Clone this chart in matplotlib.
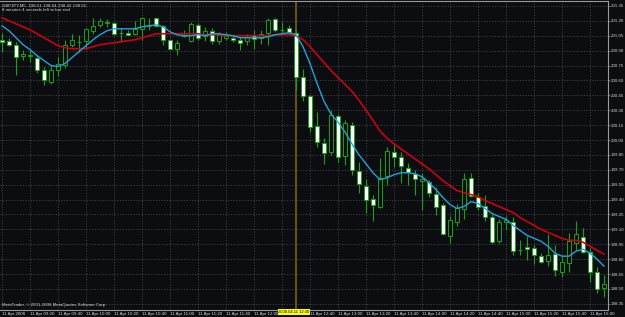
import matplotlib
matplotlib.use("Agg")
import matplotlib.pyplot as plt

# GBPJPY M5, 11 Apr 2008, 09:00 .. 16:10
opens = [201.01, 201.00, 200.96, 200.85, 200.85, 200.83, 200.71, 200.58, 200.71, 200.76,
         200.96, 200.99, 201.00, 201.10, 201.16, 201.18, 201.18, 201.08, 201.08, 201.07,
         201.12, 201.15, 201.23, 201.15, 201.01, 200.92, 201.06, 201.00, 201.16, 201.05,
         201.10, 201.00, 201.03, 201.03, 201.01, 201.00, 201.06, 201.03, 201.08, 201.22,
         201.11, 201.13, 201.08, 200.63, 200.44, 200.14, 199.97, 199.88, 200.24, 199.84,
         200.15, 199.69, 199.54, 199.41, 199.33, 199.64, 199.88, 199.83, 199.72, 199.66,
         199.59, 199.58, 199.46, 199.35, 199.03, 199.17, 199.31, 199.62, 199.43, 199.34,
         199.22, 198.98, 199.17, 199.17, 198.89, 198.92, 198.91, 198.83, 198.78, 198.85,
         198.67, 198.76, 198.96, 199.02, 198.87, 198.67, 198.51]
highs = [201.08, 201.03, 200.99, 200.91, 200.91, 200.86, 200.74, 200.76, 200.84, 201.01,
         201.07, 201.06, 201.13, 201.23, 201.23, 201.22, 201.19, 201.13, 201.11, 201.20,
         201.24, 201.23, 201.24, 201.16, 201.02, 201.01, 201.11, 201.19, 201.18, 201.14,
         201.13, 201.09, 201.09, 201.06, 201.04, 201.07, 201.11, 201.11, 201.23, 201.23,
         201.19, 201.16, 201.11, 200.72, 200.45, 200.28, 200.02, 200.30, 200.26, 200.20,
         200.18, 199.78, 199.61, 199.45, 199.82, 199.93, 199.95, 199.88, 199.77, 199.70,
         199.67, 199.60, 199.53, 199.37, 199.23, 199.36, 199.67, 199.67, 199.47, 199.45,
         199.25, 199.20, 199.23, 199.22, 198.99, 199.03, 198.94, 198.86, 199.05, 198.94,
         198.83, 199.06, 199.18, 199.11, 198.91, 198.72, 198.64]
lows = [200.89, 200.95, 200.65, 200.81, 200.79, 200.67, 200.55, 200.56, 200.64, 200.73,
        200.94, 200.89, 200.92, 201.07, 201.14, 201.14, 201.06, 200.99, 201.06, 201.06,
        201.01, 201.11, 201.14, 200.96, 200.91, 200.86, 201.04, 200.99, 201.01, 201.00,
        200.97, 200.97, 201.01, 200.99, 200.91, 200.96, 200.92, 200.97, 200.96, 201.09,
        201.07, 201.06, 200.50, 200.39, 200.08, 199.93, 199.76, 199.85, 199.78, 199.75,
        199.65, 199.47, 199.26, 199.18, 199.32, 199.55, 199.73, 199.57, 199.55, 199.45,
        199.30, 199.43, 199.24, 199.04, 198.96, 199.13, 199.20, 199.43, 199.30, 199.18,
        198.95, 198.96, 199.09, 198.84, 198.84, 198.79, 198.75, 198.76, 198.73, 198.63,
        198.62, 198.67, 198.89, 198.86, 198.57, 198.46, 198.42]
closes = [200.99, 200.96, 200.84, 200.87, 200.86, 200.71, 200.60, 200.71, 200.77, 200.96,
          201.01, 200.99, 201.12, 201.15, 201.20, 201.19, 201.07, 201.08, 201.06, 201.12,
          201.23, 201.15, 201.15, 201.01, 200.92, 200.98, 201.05, 201.17, 201.03, 201.10,
          201.00, 201.06, 201.05, 201.01, 200.98, 201.04, 201.02, 201.07, 201.21, 201.11,
          201.11, 201.09, 200.63, 200.44, 200.13, 199.98, 199.87, 200.25, 199.83, 200.17,
          199.70, 199.56, 199.40, 199.35, 199.62, 199.89, 199.83, 199.74, 199.68, 199.61,
          199.61, 199.47, 199.33, 199.05, 199.19, 199.32, 199.61, 199.44, 199.33, 199.22,
          198.97, 199.17, 199.19, 198.88, 198.89, 198.90, 198.84, 198.77, 198.84, 198.69,
          198.77, 198.98, 199.05, 198.87, 198.67, 198.50, 198.55]

# moving averages as drawn on the chart
ma_slow = [201.23, 201.20, 201.17, 201.14, 201.11, 201.07, 201.03, 200.99, 200.95, 200.93,
           200.92, 200.92, 200.92, 200.94, 200.96, 200.97, 200.98, 200.99, 201.00, 201.01,
           201.03, 201.05, 201.07, 201.07, 201.07, 201.07, 201.07, 201.07, 201.07, 201.06,
           201.06, 201.06, 201.05, 201.05, 201.05, 201.05, 201.05, 201.05, 201.05, 201.06,
           201.06, 201.06, 201.05, 201.01, 200.94, 200.86, 200.78, 200.70, 200.63, 200.56,
           200.49, 200.40, 200.30, 200.20, 200.09, 200.02, 199.96, 199.91, 199.86, 199.81,
           199.76, 199.71, 199.65, 199.59, 199.54, 199.49, 199.47, 199.45, 199.43, 199.39,
           199.36, 199.33, 199.30, 199.27, 199.22, 199.18, 199.14, 199.10, 199.07, 199.04,
           199.01, 198.99, 198.99, 198.97, 198.93, 198.89, 198.85]
ma_fast = [201.15, 201.10, 201.03, 200.96, 200.91, 200.85, 200.80, 200.75, 200.74, 200.77,
           200.83, 200.89, 200.95, 201.01, 201.06, 201.10, 201.12, 201.12, 201.12, 201.12,
           201.14, 201.15, 201.16, 201.14, 201.09, 201.06, 201.05, 201.05, 201.06, 201.05,
           201.07, 201.07, 201.06, 201.05, 201.03, 201.03, 201.03, 201.03, 201.04, 201.06,
           201.07, 201.08, 201.06, 200.94, 200.77, 200.57, 200.39, 200.26, 200.18, 200.08,
           199.96, 199.85, 199.76, 199.67, 199.60, 199.62, 199.65, 199.67, 199.67, 199.66,
           199.63, 199.57, 199.50, 199.42, 199.35, 199.31, 199.33, 199.38, 199.36, 199.31,
           199.26, 199.23, 199.20, 199.14, 199.09, 199.04, 199.01, 198.98, 198.93, 198.86,
           198.83, 198.83, 198.88, 198.90, 198.86, 198.80, 198.73]

time_labels = ["11 Apr 2008", "11 Apr 09:20", "11 Apr 09:40", "11 Apr 10:00", "11 Apr 10:20",
               "11 Apr 10:40", "11 Apr 11:00", "11 Apr 11:20", "11 Apr 11:40", "11 Apr 12:00",
               "11 Apr 12:20", "11 Apr 12:40", "11 Apr 13:00", "11 Apr 13:20", "11 Apr 13:40",
               "11 Apr 14:00", "11 Apr 14:20", "11 Apr 14:40", "11 Apr 15:00", "11 Apr 15:20",
               "11 Apr 15:40", "11 Apr 16:00"]
price_ticks = [201.35, 201.20, 201.05, 200.90, 200.75, 200.60, 200.45, 200.30, 200.15,
               200.00, 199.85, 199.70, 199.55, 199.40, 199.25, 199.10, 198.95, 198.80,
               198.65, 198.50, 198.35]
cursor_bar = 42
cursor_label = "2008.04.11 12:30"

BG = "#0c0d10"
GREEN = "#16a316"
FG = "#d4d4d4"
plt.rcParams["font.family"] = ["Liberation Sans Narrow", "Liberation Sans", "DejaVu Sans"]

fig = plt.figure(figsize=(6.25, 3.17), dpi=100, facecolor=BG)
ax = fig.add_axes([0.0, 0.0221, 0.972, 0.9732], facecolor=BG)

idx = list(range(len(opens)))
body_low = [min(o, c) for o, c in zip(opens, closes)]
body_h = [abs(c - o) for o, c in zip(opens, closes)]
fills = ["white" if c < o else BG for o, c in zip(opens, closes)]

ax.axvline(cursor_bar, color="#7d6a12", lw=1.1, zorder=1.5)
ax.vlines(idx, lows, highs, color=GREEN, lw=0.8, zorder=2)
ax.bar(idx, body_h, bottom=body_low, width=0.68, color=fills,
       edgecolor=GREEN, linewidth=0.7, zorder=3)
ax.plot(idx, ma_slow, color="#d0000f", lw=1.2, zorder=4)
ax.plot(idx, ma_fast, color="#1fa3dc", lw=1.0, zorder=4)

ax.set_xlim(-0.29, 86.5)
ax.set_ylim(198.288, 201.395)

ax.yaxis.tick_right()
ax.set_yticks(price_ticks)
ax.set_yticklabels([f"{p:.2f}" for p in price_ticks])
tick_pos = idx[::4]
# the label just before the cursor is covered by the cursor box in the terminal
shown = ["" if 0 < cursor_bar - t < 4 else lab for t, lab in zip(tick_pos, time_labels)]
ax.set_xticks(tick_pos)
ax.set_xticklabels(shown)
for lab in ax.get_xticklabels():
    lab.set_ha("left")
ax.tick_params(axis="y", colors="#9a9a9a", labelcolor=FG, labelsize=3.2,
               length=1.5, width=0.5, pad=1.0)
ax.tick_params(axis="x", labelcolor=FG, labelsize=3.2, length=0, pad=1.2)

ax.grid(True, color="#5c5c5c", lw=0.5, linestyle=(0, (1.5, 2.5)), zorder=0)
for side in ["top", "right", "bottom"]:
    ax.spines[side].set_color("#9a9a9a")
    ax.spines[side].set_linewidth(0.8)
ax.spines["left"].set_visible(False)

info = f"GBPJPY,M5  {opens[-1]:.2f} {highs[-1]:.2f} {lows[-1]:.2f} {closes[-1]:.2f}"
ax.text(0.004, 0.988, info, transform=ax.transAxes, color=FG, fontsize=3.2, va="center")
ax.text(0.004, 0.973, "8 minutes 4 seconds left to bar end", transform=ax.transAxes,
        color=FG, fontsize=3.2, va="center")
ax.text(0.004, 0.016, "MetaTrader, \u00a9 2001-2008 MetaQuotes Software Corp.",
        transform=ax.transAxes, color=FG, fontsize=3.2, va="center")

fig.text(294 / 625, 1 - 312 / 317, cursor_label, color="black", fontsize=3.0,
         ha="center", va="center",
         bbox=dict(facecolor="#ffff00", edgecolor="none", pad=0.5))

fig.savefig("out.png", dpi=100, facecolor=BG)
